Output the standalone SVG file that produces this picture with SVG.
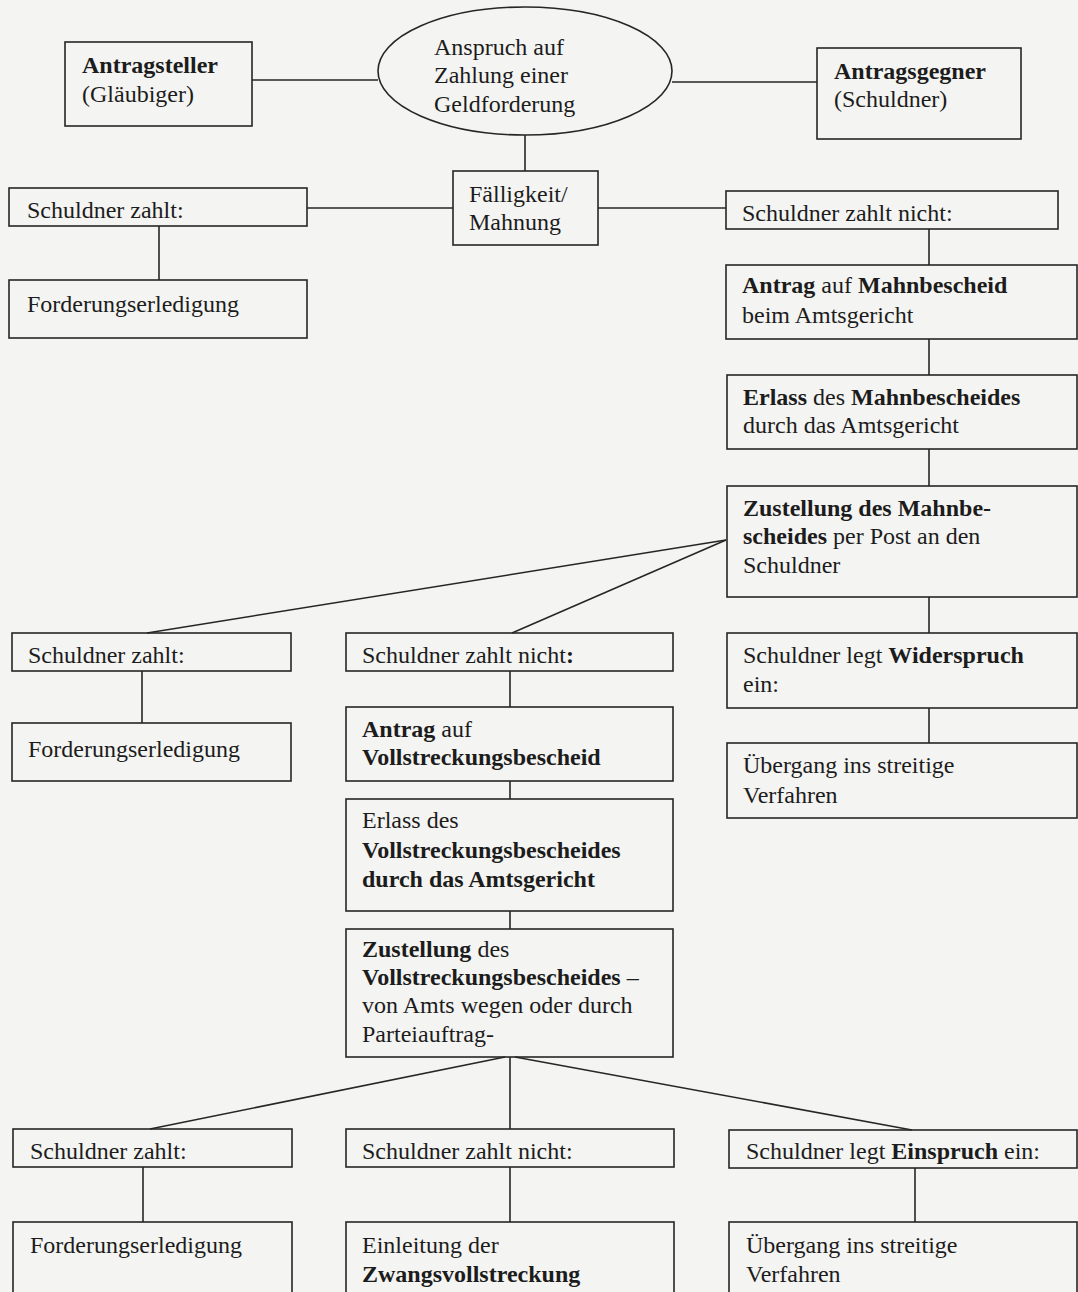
<svg xmlns="http://www.w3.org/2000/svg" width="1078" height="1292" viewBox="0 0 1078 1292">
<style>
.bx{fill:none;stroke:#262626;stroke-width:1.6}
.ln{fill:none;stroke:#262626;stroke-width:1.6}
text{font-family:"Liberation Serif","Times New Roman",serif;font-size:24px;fill:#1c1c1c}
.b{font-weight:bold}
</style>
<rect x="0" y="0" width="1078" height="1292" fill="#f4f4f2"/>
<g id="connectors">
<line class="ln" x1="252" y1="80" x2="378" y2="80"/>
<line class="ln" x1="672" y1="82" x2="817" y2="82"/>
<line class="ln" x1="525" y1="135" x2="525" y2="171"/>
<line class="ln" x1="307" y1="208" x2="453" y2="208"/>
<line class="ln" x1="598" y1="208" x2="726" y2="208"/>
<line class="ln" x1="159" y1="226" x2="159" y2="280"/>
<line class="ln" x1="929" y1="229" x2="929" y2="265"/>
<line class="ln" x1="929" y1="339" x2="929" y2="375"/>
<line class="ln" x1="929" y1="449" x2="929" y2="486"/>
<line class="ln" x1="929" y1="597" x2="929" y2="633"/>
<line class="ln" x1="929" y1="708" x2="929" y2="743"/>
<line class="ln" x1="726" y1="540" x2="147" y2="633"/>
<line class="ln" x1="726" y1="540" x2="512" y2="633"/>
<line class="ln" x1="142" y1="671" x2="142" y2="723"/>
<line class="ln" x1="510" y1="671" x2="510" y2="707"/>
<line class="ln" x1="510" y1="781" x2="510" y2="799"/>
<line class="ln" x1="510" y1="911" x2="510" y2="929"/>
<line class="ln" x1="505" y1="1057" x2="150" y2="1129"/>
<line class="ln" x1="510" y1="1057" x2="510" y2="1129"/>
<line class="ln" x1="515" y1="1057" x2="912" y2="1130"/>
<line class="ln" x1="143" y1="1167" x2="143" y2="1222"/>
<line class="ln" x1="510" y1="1167" x2="510" y2="1222"/>
<line class="ln" x1="915" y1="1168" x2="915" y2="1222"/>
</g>
<g id="antragsteller">
<rect class="bx" x="65" y="42" width="187" height="84"/>
<text x="82" y="73" class="b">Antragsteller</text>
<text x="82" y="102">(Gläubiger)</text>
</g>
<g id="anspruch">
<ellipse class="bx" cx="525" cy="71" rx="147" ry="64"/>
<text x="434" y="55">Anspruch auf</text>
<text x="434" y="83">Zahlung einer</text>
<text x="434" y="112">Geldforderung</text>
</g>
<g id="antragsgegner">
<rect class="bx" x="817" y="48" width="204" height="91"/>
<text x="834" y="79" class="b">Antragsgegner</text>
<text x="834" y="107">(Schuldner)</text>
</g>
<g id="faelligkeit">
<rect class="bx" x="453" y="171" width="145" height="74"/>
<text x="469" y="202">Fälligkeit/</text>
<text x="469" y="230">Mahnung</text>
</g>
<g id="zahlt1">
<rect class="bx" x="9" y="188" width="298" height="38"/>
<text x="27" y="218">Schuldner zahlt:</text>
</g>
<g id="erledigung1">
<rect class="bx" x="9" y="280" width="298" height="58"/>
<text x="27" y="312">Forderungserledigung</text>
</g>
<g id="nichtzahlt1">
<rect class="bx" x="726" y="191" width="332" height="38"/>
<text x="742" y="221">Schuldner zahlt nicht:</text>
</g>
<g id="antragmahn">
<rect class="bx" x="726" y="265" width="351" height="74"/>
<text x="742" y="293"><tspan class="b">Antrag</tspan> auf <tspan class="b">Mahnbescheid</tspan></text>
<text x="742" y="323">beim Amtsgericht</text>
</g>
<g id="erlassmahn">
<rect class="bx" x="727" y="375" width="350" height="74"/>
<text x="743" y="405"><tspan class="b">Erlass</tspan> des <tspan class="b">Mahnbescheides</tspan></text>
<text x="743" y="433">durch das Amtsgericht</text>
</g>
<g id="zustellungmahn">
<rect class="bx" x="727" y="486" width="350" height="111"/>
<text x="743" y="516" class="b">Zustellung des Mahnbe-</text>
<text x="743" y="544"><tspan class="b">scheides</tspan> per Post an den</text>
<text x="743" y="573">Schuldner</text>
</g>
<g id="widerspruch">
<rect class="bx" x="727" y="633" width="350" height="75"/>
<text x="743" y="663">Schuldner legt <tspan class="b">Widerspruch</tspan></text>
<text x="743" y="692">ein:</text>
</g>
<g id="uebergang1">
<rect class="bx" x="727" y="743" width="350" height="75"/>
<text x="743" y="773">Übergang ins streitige</text>
<text x="743" y="803">Verfahren</text>
</g>
<g id="zahlt2">
<rect class="bx" x="12" y="633" width="279" height="38"/>
<text x="28" y="663">Schuldner zahlt:</text>
</g>
<g id="erledigung2">
<rect class="bx" x="12" y="723" width="279" height="58"/>
<text x="28" y="757">Forderungserledigung</text>
</g>
<g id="nichtzahlt2">
<rect class="bx" x="346" y="633" width="327" height="38"/>
<text x="362" y="663">Schuldner zahlt nicht<tspan class="b">:</tspan></text>
</g>
<g id="antragvoll">
<rect class="bx" x="346" y="707" width="327" height="74"/>
<text x="362" y="737"><tspan class="b">Antrag</tspan> auf</text>
<text x="362" y="765" class="b">Vollstreckungsbescheid</text>
</g>
<g id="erlassvoll">
<rect class="bx" x="346" y="799" width="327" height="112"/>
<text x="362" y="828">Erlass des</text>
<text x="362" y="858" class="b">Vollstreckungsbescheides</text>
<text x="362" y="887" class="b">durch das Amtsgericht</text>
</g>
<g id="zustellungvoll">
<rect class="bx" x="346" y="929" width="327" height="128"/>
<text x="362" y="957"><tspan class="b">Zustellung</tspan> des</text>
<text x="362" y="985"><tspan class="b">Vollstreckungsbescheides</tspan> –</text>
<text x="362" y="1013">von Amts wegen oder durch</text>
<text x="362" y="1042">Parteiauftrag-</text>
</g>
<g id="zahlt3">
<rect class="bx" x="13" y="1129" width="279" height="38"/>
<text x="30" y="1159">Schuldner zahlt:</text>
</g>
<g id="erledigung3">
<rect class="bx" x="13" y="1222" width="279" height="90"/>
<text x="30" y="1253">Forderungserledigung</text>
</g>
<g id="nichtzahlt3">
<rect class="bx" x="346" y="1129" width="328" height="38"/>
<text x="362" y="1159">Schuldner zahlt nicht:</text>
</g>
<g id="zwangsvollstreckung">
<rect class="bx" x="346" y="1222" width="328" height="90"/>
<text x="362" y="1253">Einleitung der</text>
<text x="362" y="1282" class="b">Zwangsvollstreckung</text>
</g>
<g id="einspruch">
<rect class="bx" x="729" y="1130" width="348" height="38"/>
<text x="746" y="1159">Schuldner legt <tspan class="b">Einspruch</tspan> ein:</text>
</g>
<g id="uebergang2">
<rect class="bx" x="729" y="1222" width="348" height="90"/>
<text x="746" y="1253">Übergang ins streitige</text>
<text x="746" y="1282">Verfahren</text>
</g>
</svg>
